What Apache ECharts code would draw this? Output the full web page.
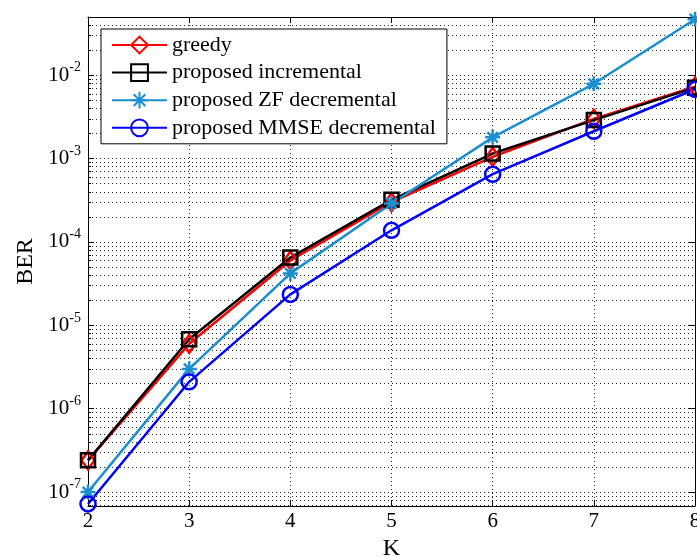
<!DOCTYPE html>
<html>
<head>
<meta charset="utf-8">
<script src="https://cdn.jsdelivr.net/npm/echarts@6/dist/echarts.min.js"></script>
<style>
html,body{margin:0;padding:0;background:#fff;}
#chart{width:697px;height:557px;}
</style>
</head>
<body>
<div id="chart"></div>
<script>
// ---- data ----
const K = [2, 3, 4, 5, 6, 7, 8];
const greedy = [2.4e-7, 6.0e-6, 6.0e-5, 3.0e-4, 1.05e-3, 3.0e-3, 7.3e-3];
const incremental = [2.4e-7, 6.8e-6, 6.5e-5, 3.2e-4, 1.15e-3, 2.9e-3, 7.1e-3];
const zfDecremental = [1.0e-7, 3.0e-6, 4.2e-5, 2.9e-4, 1.8e-3, 7.9e-3, 4.7e-2];
const mmseDecremental = [7.2e-8, 2.1e-6, 2.35e-5, 1.38e-4, 6.5e-4, 2.13e-3, 6.8e-3];
const seriesNames = ['greedy', 'proposed incremental', 'proposed ZF decremental', 'proposed MMSE decremental'];
const yDecades = [-7, -6, -5, -4, -3, -2];   // tick labels 10^n
const yMinValue = 6.8e-8, yMaxValue = 5e-2;
const xTicks = [2, 3, 4, 5, 6, 7, 8];

// ---- log transform helpers ----
const lg = v => Math.log10(v);
const yMin = lg(yMinValue), yMax = lg(yMaxValue);
const minorTicks = [];
for (let n = -8; n <= -1; n++) {
  for (let m = 2; m <= 9; m++) {
    const v = n + Math.log10(m);
    if (v >= yMin - 1e-9 && v <= yMax + 1e-9) minorTicks.push(v);
  }
}
const pts = arr => K.map((k, i) => [k, lg(arr[i])]);

const FONT = '"Liberation Serif", "Times New Roman", serif';
const dotted = { show: true, lineStyle: { color: '#222', width: 1, type: [1, 3] } };
const star = 'path://M10,0L10,20M0,10L20,10M3,3L17,17M3,17L17,3';

function lineSeries(name, arr, color, symbol, size) {
  return {
    name: name, type: 'line', data: pts(arr), clip: false,
    symbol: symbol, symbolSize: size, showSymbol: true,
    lineStyle: { color: color, width: 2.5 },
    itemStyle: { color: 'rgba(0,0,0,0)', borderColor: color, borderWidth: 2.5 },
    emphasis: { disabled: true }, z: 3
  };
}

const chart = echarts.init(document.getElementById('chart'), null, { renderer: 'canvas' });
chart.setOption({
  animation: false,
  backgroundColor: '#fff',
  grid: { left: 88, right: 2, top: 17, bottom: 51, outerBoundsMode: 'none', containLabel: false },
  legend: {
    orient: 'vertical', left: 101, top: 29,
    padding: [5, 11, 5, 10], itemGap: 5.6, itemWidth: 55, itemHeight: 21,
    backgroundColor: '#fff', borderColor: '#000', borderWidth: 1,
    textStyle: { fontFamily: FONT, fontSize: 22, color: '#000' },
    data: seriesNames, selectedMode: false
  },
  xAxis: [{
    type: 'value', min: 2, max: 8, interval: 1, position: 'bottom',
    name: 'K', nameLocation: 'middle', nameGap: 29,
    nameTextStyle: { fontFamily: FONT, fontSize: 24, color: '#000' },
    axisLine: { show: true, onZero: false, lineStyle: { color: '#000', width: 1 } },
    axisTick: { show: true, inside: true, length: 6, lineStyle: { color: '#000' } },
    axisLabel: { fontFamily: FONT, fontSize: 21, color: '#000', margin: 5, customValues: xTicks },
    splitLine: dotted
  }, {
    type: 'value', min: 2, max: 8, interval: 1, position: 'top',
    axisLine: { show: true, onZero: false, lineStyle: { color: '#000', width: 1 } },
    axisTick: { show: true, inside: true, length: 6, lineStyle: { color: '#000' } },
    axisLabel: { show: false }, splitLine: { show: false }
  }],
  yAxis: [{
    type: 'value', min: yMin, max: yMax, position: 'left',
    name: 'BER', nameLocation: 'middle', nameGap: 48, nameRotate: 90,
    nameTextStyle: { fontFamily: FONT, fontSize: 24, color: '#000' },
    axisLine: { show: true, onZero: false, lineStyle: { color: '#000', width: 1 } },
    axisTick: { show: true, inside: true, length: 6, customValues: yDecades, lineStyle: { color: '#000' } },
    axisLabel: {
      show: true, margin: 7, customValues: yDecades,
      formatter: v => '{b|10}{s|' + Math.round(v) + '}',
      rich: {
        b: { fontFamily: FONT, fontSize: 21, color: '#000', lineHeight: 22 },
        s: { fontFamily: FONT, fontSize: 14, color: '#000', lineHeight: 14, padding: [0, 0, 15, 0] }
      }
    },
    splitLine: dotted
  }, {
    type: 'value', min: yMin, max: yMax, position: 'left',
    axisLine: { show: false },
    axisTick: { show: true, inside: true, length: 3, customValues: minorTicks, lineStyle: { color: '#000' } },
    axisLabel: { show: false },
    splitLine: dotted
  }, {
    type: 'value', min: yMin, max: yMax, position: 'right',
    axisLine: { show: true, onZero: false, lineStyle: { color: '#000', width: 1 } },
    axisTick: { show: true, inside: true, length: 6, customValues: yDecades, lineStyle: { color: '#000' } },
    axisLabel: { show: false }, splitLine: { show: false }
  }],
  series: [
    lineSeries(seriesNames[0], greedy, '#ff0000', 'diamond', [13, 18]),
    lineSeries(seriesNames[1], incremental, '#000000', 'rect', 14),
    lineSeries(seriesNames[2], zfDecremental, '#1a8fd0', star, 15),
    lineSeries(seriesNames[3], mmseDecremental, '#0000ff', 'circle', 15)
  ]
});
</script>
</body>
</html>
